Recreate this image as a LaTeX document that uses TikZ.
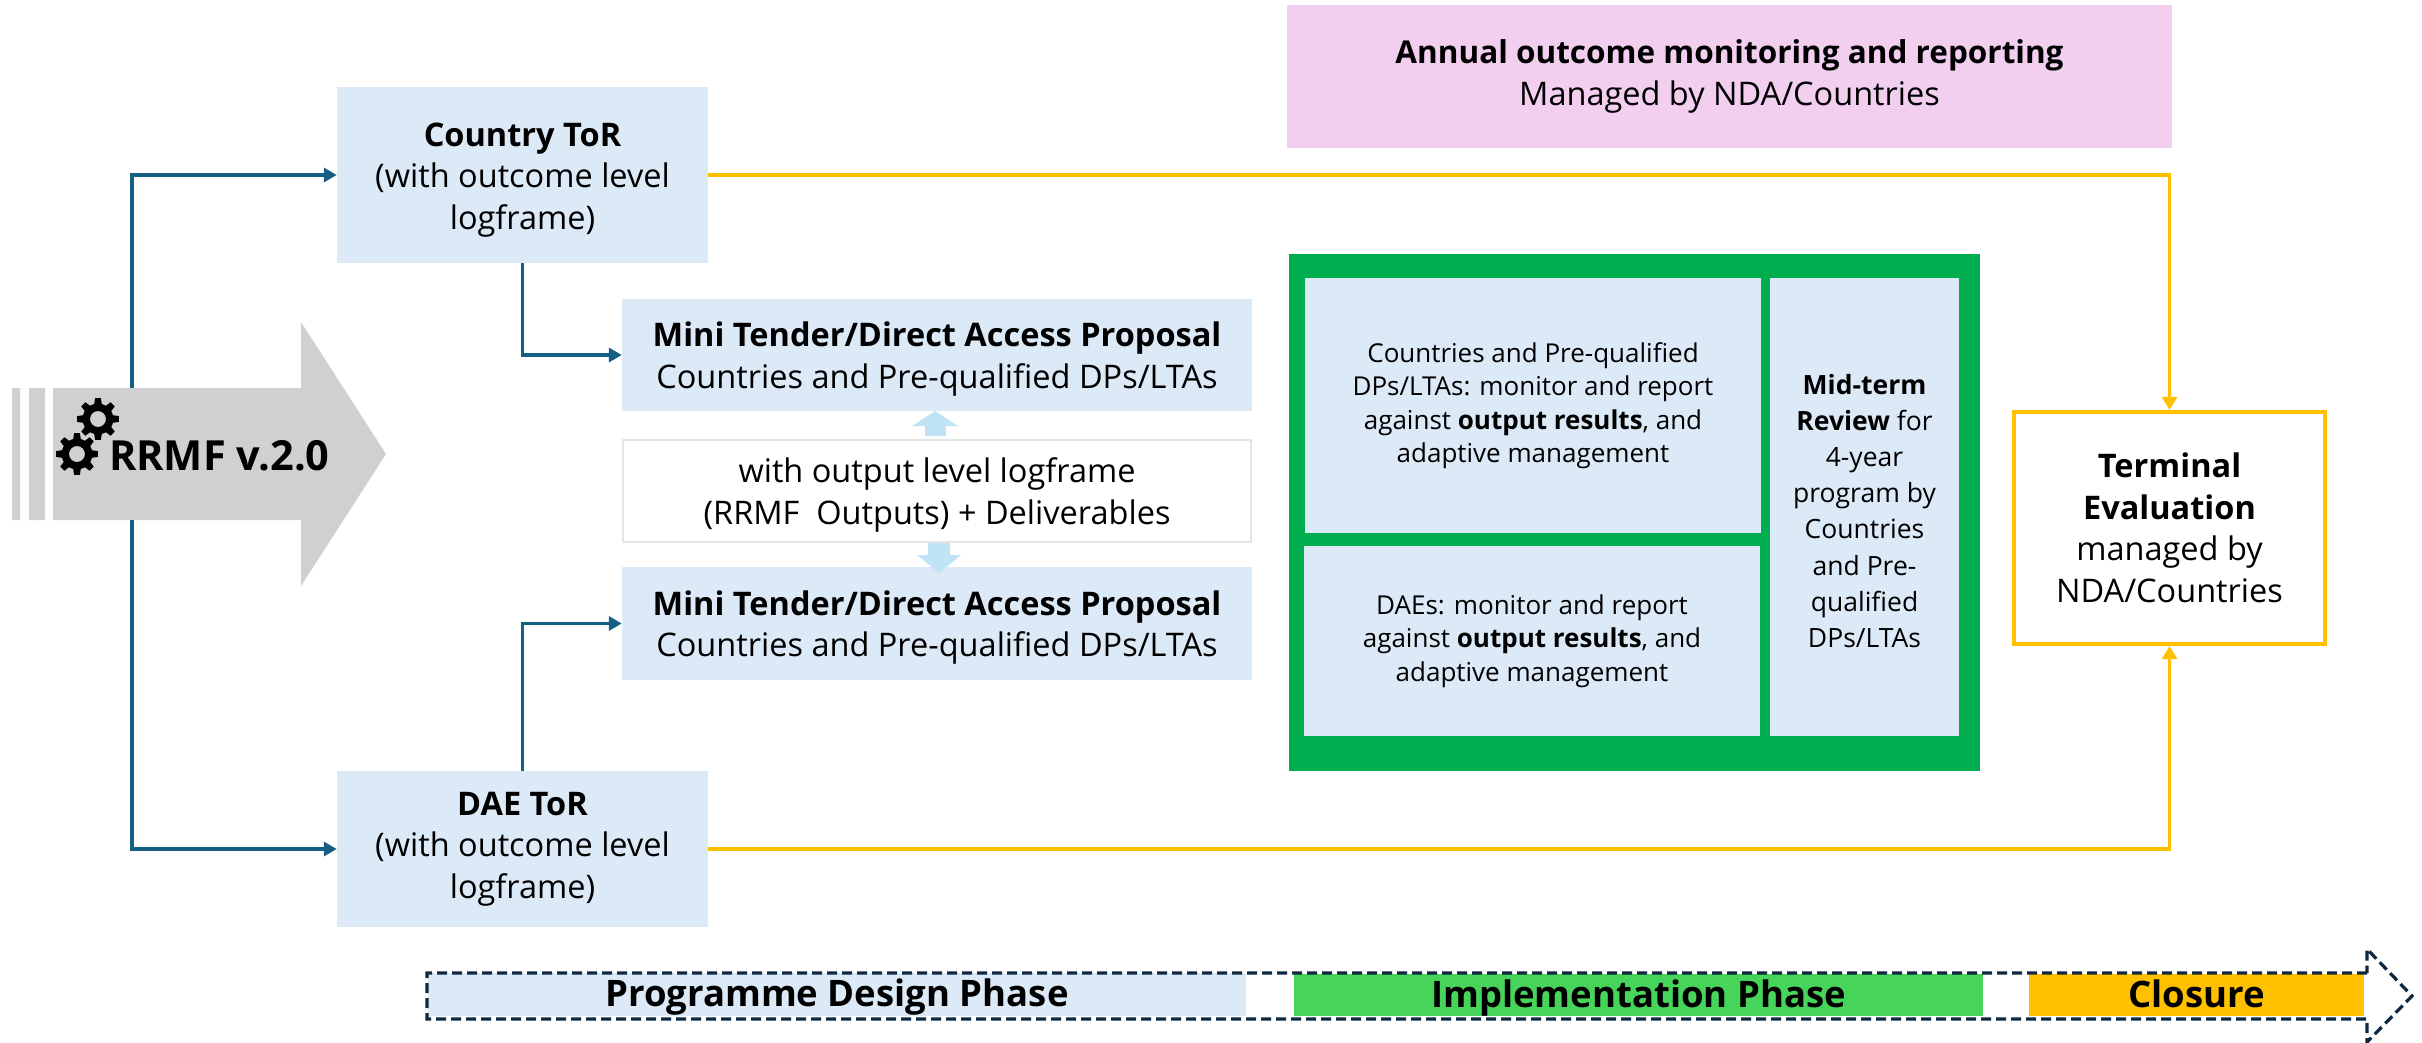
\documentclass[tikz,border=0pt]{standalone}
\usepackage{fontspec}
\setmainfont{Open Sans}
\usetikzlibrary{arrows.meta}
\definecolor{paleblue}{HTML}{DCE9F6}
\definecolor{linkblue}{HTML}{156082}
\definecolor{gold}{HTML}{FFC000}
\definecolor{pinkbox}{HTML}{F2CEEF}
\definecolor{deepgreen}{HTML}{00AE50}
\definecolor{lightgreen}{HTML}{47D45A}
\definecolor{greyarrow}{HTML}{D0D0D0}
\definecolor{skyarrow}{HTML}{C0E4F5}
\definecolor{navydash}{HTML}{0E2841}
\newcommand{\fs}[2]{\fontsize{#1}{#2}\selectfont}
\newcommand{\lift}{\rule{0pt}{33pt}}
\newcommand{\gearshape}[2]{%
  \fill[black,even odd rule] ({#1+21*cos(8)},{#2-21*sin(8)})
  \foreach \a in {0,45,...,315}{
    -- ({#1+21*cos(\a+8)},{#2-21*sin(\a+8)})
    -- ({#1+15.5*cos(\a+14)},{#2-15.5*sin(\a+14)})
    -- ({#1+15.5*cos(\a+31)},{#2-15.5*sin(\a+31)})
    -- ({#1+21*cos(\a+37)},{#2-21*sin(\a+37)})
  } -- cycle (#1,#2) circle[radius=8];}
\tikzset{
  x=1pt,y=-1pt,
  box/.style={fill=paleblue,draw=none,inner sep=0pt,align=center,text=black},
  large/.style={font=\fs{32.5}{41.5}},
  small/.style={font=\fs{26}{33.5}},
  tall/.style={font=\fs{26.5}{36.2}},
  link/.style={draw=linkblue,line width=3.4pt,-{Triangle[length=13pt,width=14pt]}},
  goldlink/.style={draw=gold,line width=3.4pt,-{Triangle[length=13pt,width=15pt]}},
  phase/.style={inner sep=0pt,font=\fs{36.5}{40}\bfseries,text=black,align=center,text height=30pt,text depth=6pt},
}
\begin{document}
\begin{tikzpicture}
\useasboundingbox[fill=white] (0,0) rectangle (2422,1043);
% RRMF arrow
\fill[greyarrow] (12,388) rectangle (20,520) (29,388) rectangle (45,520);
\fill[greyarrow] (53,388) -- (301,388) -- (301,322) -- (386,454) -- (301,586) -- (301,520) -- (53,520) -- cycle;
\coordinate (arrowtop) at (132,388);
\coordinate (arrowbot) at (132,520);
\node[anchor=base west,inner sep=0pt,font=\fs{41.5}{50}\bfseries] (rrmf) at (109,470) {RRMF v.2.0};
\gearshape{98}{419}
\gearshape{77}{454}
% boxes
\node[box,large,minimum width=371pt,minimum height=176pt] (country) at (522.5,175) {\lift\textbf{Country ToR}\\(with outcome level\\logframe)};
\node[box,large,minimum width=371pt,minimum height=156pt] (dae) at (522.5,849) {\textbf{DAE ToR}\\(with outcome level\\logframe)};
\node[box,large,minimum width=630pt,minimum height=112pt] (mini1) at (937,355) {\lift\textbf{Mini Tender/Direct Access Proposal}\\Countries and Pre-qualified DPs/LTAs};
\node[box,large,minimum width=630pt,minimum height=113pt] (mini2) at (937,623.5) {\lift\textbf{Mini Tender/Direct Access Proposal}\\Countries and Pre-qualified DPs/LTAs};
\node[large,fill=white,draw=black!10,line width=2pt,inner sep=0pt,align=center,minimum width=628pt,minimum height=102pt] (withbox) at (937,491) {\lift with output level logframe\\(RRMF\ \ Outputs) + Deliverables};
% small block arrows
\fill[skyarrow] (925,436) -- (925,426) -- (912,426) -- (935,411) -- (958,426) -- (946,426) -- (946,436) -- cycle;
\fill[skyarrow] (928,543) -- (950,543) -- (950,555) -- (961,555) -- (939,573) -- (917,555) -- (928,555) -- cycle;
% pink
\node[large,fill=pinkbox,inner sep=0pt,align=center,minimum width=885pt,minimum height=143pt] (annual) at (1729.5,76.5) {{\fontsize{31.5}{41.5}\selectfont\textbf{Annual outcome monitoring and reporting}}\\Managed by NDA/Countries};
% green panel
\node[fill=deepgreen,inner sep=0pt,minimum width=691pt,minimum height=517pt] (panel) at (1634.5,512.5) {};
\node[box,small,minimum width=456pt,minimum height=255pt] (cellA) at (1533,405.5) {Countries and Pre-qualified\\DPs/LTAs: monitor and report\\against \textbf{output results}, and\\adaptive management};
\node[box,small,minimum width=456pt,minimum height=190pt] (cellB) at (1532,641) {DAEs: monitor and report\\against \textbf{output results}, and\\adaptive management};
\node[box,tall,minimum width=189pt,minimum height=458pt] (cellC) at (1864.5,507) {\rule{0pt}{28pt}\textbf{Mid-term}\\\textbf{Review} for\\4-year\\program by\\Countries\\and Pre-\\qualified\\DPs/LTAs};
% terminal
\node[large,fill=white,draw=gold,line width=4.3pt,inner sep=0pt,align=center,minimum width=311pt,minimum height=232pt] (terminal) at (2169.5,528) {\textbf{Terminal}\\\textbf{Evaluation}\\managed by\\NDA/Countries};
% connectors
\draw[link] (arrowtop) |- (country.west);
\draw[link] (arrowbot) |- (dae.west);
\draw[link] (country.south) |- (mini1.west);
\draw[link] (dae.north) |- (mini2.west);
\draw[goldlink] (country.east) -| (terminal.north);
\draw[goldlink] (dae.east) -| (terminal.south);
% phase bar
\node[phase,fill=paleblue,minimum width=818pt,minimum height=43pt] (p1) at (837,994.5) {Programme Design Phase};
\node[phase,fill=lightgreen,minimum width=689pt,minimum height=42pt] (p2) at (1638.5,995) {Implementation Phase};
\node[phase,fill=gold,minimum width=335pt,minimum height=42pt] (p3) at (2196.5,995) {Closure};
\draw[navydash,line width=3.2pt,dash pattern=on 10pt off 5pt] (2367,973) -- (427,973) -- (427,1019) -- (2367,1019) -- (2367,1042) -- (2412,996) -- (2367,949) -- cycle;
\end{tikzpicture}
\end{document}
